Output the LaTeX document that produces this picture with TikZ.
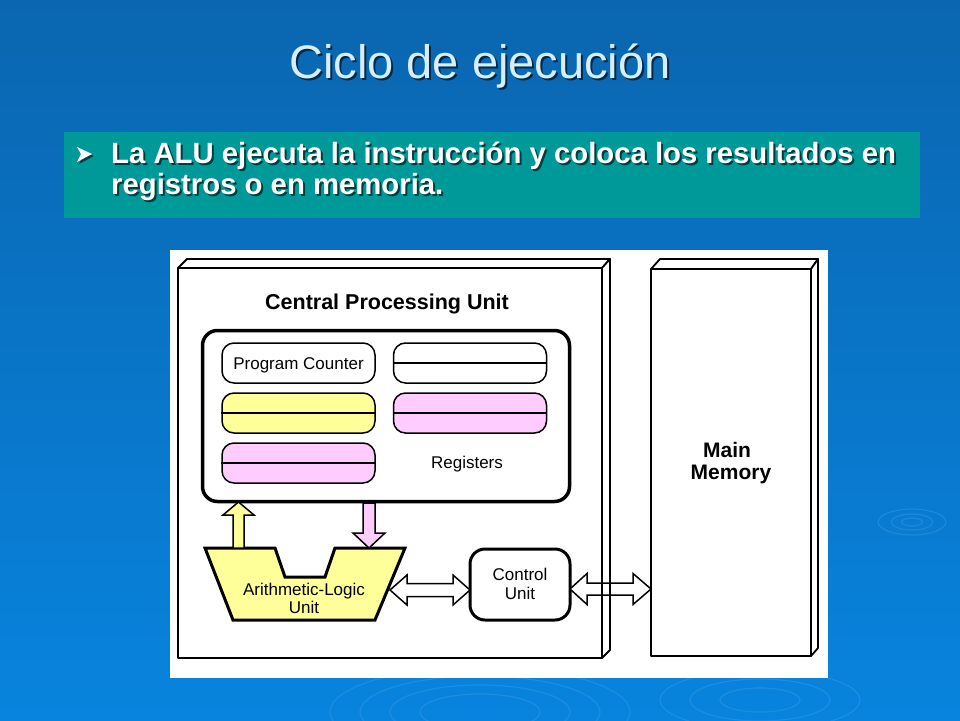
\documentclass[tikz,border=0pt]{standalone}
\usepackage{fontspec}
\setmainfont{Liberation Sans}
\definecolor{bgtop}{RGB}{10,102,176}
\definecolor{bgbot}{RGB}{8,132,222}
\definecolor{teal}{RGB}{0,153,153}
\definecolor{titlecol}{RGB}{214,238,255}
\definecolor{regyellow}{RGB}{255,255,153}
\definecolor{regpink}{RGB}{255,204,255}
\definecolor{ripple}{RGB}{90,175,240}
\begin{document}
\begin{tikzpicture}[x=1pt,y=-1pt,
  txt/.style={inner sep=0pt,anchor=base},
  regbox/.style={draw,line width=1.5pt,rounded corners=12pt,minimum width=153pt,minimum height=40pt,inner sep=0pt},
  bigbox/.style={draw,line width=3.5pt,rounded corners=15pt,inner sep=0pt},
  face/.style={draw,line width=1.8pt,fill=white,line join=round},
  blockarrow/.style={draw,line width=1.5pt,line join=miter},
  rip/.style={draw=ripple,line width=1.2pt,opacity=0.25}
]
\useasboundingbox (0,0) rectangle (960,720);
% background
\shade[top color=bgtop,bottom color=bgbot] (0,0) rectangle (960,720);
% ripples
\foreach \r in {8,16,26} {\draw[rip] (912,522) ellipse ({\r*1.3} and {\r*0.5});}
\begin{scope}
\clip (0,678) rectangle (960,720);
\foreach \r in {60,90,120,150} {\draw[rip] (480,712) ellipse ({\r} and {\r*0.3});}
\foreach \r in {40,70,100} {\draw[rip] (760,700) ellipse ({\r} and {\r*0.3});}
\end{scope}
% title
\node[txt,text=black,opacity=0.6] (titleshadow) at (482,80) {\fontsize{47}{50}\selectfont Ciclo de ejecución};
\node[txt,text=titlecol] (title) at (480,78) {\fontsize{47}{50}\selectfont Ciclo de ejecución};
% teal bullet box
\fill[teal] (64,132) rectangle (920,218);
\fill[black,opacity=0.6] (79,149) -- (94,156) -- (79,164) -- (83,156) -- cycle;
\fill[white] (77,147) -- (92,154) -- (77,162) -- (81,154) -- cycle;
\node[txt,anchor=base west,text=black,opacity=0.6] (b1s) at (113,165) {\fontsize{29.3}{31}\selectfont\bfseries La ALU ejecuta la instrucción y coloca los resultados en};
\node[txt,anchor=base west,text=white] (b1) at (111,163) {\fontsize{29.3}{31}\selectfont\bfseries La ALU ejecuta la instrucción y coloca los resultados en};
\node[txt,anchor=base west,text=black,opacity=0.6] (b2s) at (113,196) {\fontsize{29.3}{31}\selectfont\bfseries registros o en memoria.};
\node[txt,anchor=base west,text=white] (b2) at (111,194) {\fontsize{29.3}{31}\selectfont\bfseries registros o en memoria.};
% white diagram panel
\fill[white] (170,250) rectangle (828,678);
% CPU 3D box
\draw[face] (178,268) -- (187,259) -- (610,259) -- (602,268) -- cycle;
\draw[face] (602,268) -- (610,259) -- (610,650) -- (602,658) -- cycle;
\draw[face] (178,268) rectangle (602,658);
\node[txt] (cpulabel) at (387,309) {\fontsize{21.5}{24}\selectfont\bfseries Central Processing Unit};
% Main memory 3D box
\draw[face] (651,269) -- (660,259) -- (818,259) -- (811,269) -- cycle;
\draw[face] (811,269) -- (818,259) -- (818,648) -- (811,656) -- cycle;
\draw[face] (651,269) rectangle (811,656);
\node[txt] (mem1) at (727,457) {\fontsize{21}{24}\selectfont\bfseries Main};
\node[txt] (mem2) at (731,479) {\fontsize{21}{24}\selectfont\bfseries Memory};
% registers box
\node[bigbox,minimum width=367pt,minimum height=171pt] (regs) at (386,416) {};
\node[regbox,fill=white] (pc) at (298.5,363) {};
\node[txt] (pctext) at (298.5,369) {\fontsize{17}{20}\selectfont Program Counter};
\node[regbox,fill=white] (r2) at (470,363) {};
\node[regbox,fill=regyellow] (r3) at (298.5,413) {};
\node[regbox,fill=regpink] (r4) at (470,413) {};
\node[regbox,fill=regpink] (r5) at (298.5,463) {};
\foreach \n in {r2,r3,r4,r5} {\draw[line width=1.5pt] (\n.west) -- (\n.east);}
\node[txt] (regtext) at (467,468) {\fontsize{17}{20}\selectfont Registers};
% ALU
\draw[line width=3pt,fill=regyellow,line join=miter] (205,548) -- (275,548) -- (285,577) -- (325,577) -- (335,548) -- (405,548) -- (375,620) -- (233,620) -- cycle;
\coordinate (alutop) at (305,548);
\node[txt] (alu1) at (304,595) {\fontsize{17}{20}\selectfont Arithmetic-Logic};
\node[txt] (alu2) at (304,613) {\fontsize{17}{20}\selectfont Unit};
% control unit
\node[bigbox,line width=3pt,minimum width=100pt,minimum height=71pt] (cu) at (520,584.5) {};
\node[txt] (cu1) at (520,580) {\fontsize{17}{20}\selectfont Control};
\node[txt] (cu2) at (520,599) {\fontsize{17}{20}\selectfont Unit};
% yellow up arrow (ALU -> registers)
\draw[blockarrow,fill=regyellow] (233,548) -- (233,515) -- (223,515) -- (238.5,502) -- (254,515) -- (244,515) -- (244,548) -- cycle;
% pink down arrow (registers -> ALU)
\draw[blockarrow,fill=regpink] (363,503) -- (363,533) -- (353,533) -- (369,548) -- (385,533) -- (375,533) -- (375,503) -- cycle;
% ALU <-> CU double arrow
\draw[blockarrow,fill=white] (390,590) -- (407,575) -- (407,583.5) -- (453,583.5) -- (453,575) -- (470,590) -- (453,605) -- (453,596.5) -- (407,596.5) -- (407,605) -- cycle;
% CU <-> Memory double arrow
\draw[blockarrow,fill=white] (570,589) -- (587,573.5) -- (587,583) -- (633,583) -- (633,573.5) -- (651,589) -- (633,604.5) -- (633,595) -- (587,595) -- (587,604.5) -- cycle;
% CPU right face lines run over the arrow
\draw[line width=1.8pt] (602,575) -- (602,605);
\draw[line width=1.8pt] (610,575) -- (610,605);
\end{tikzpicture}
\end{document}
